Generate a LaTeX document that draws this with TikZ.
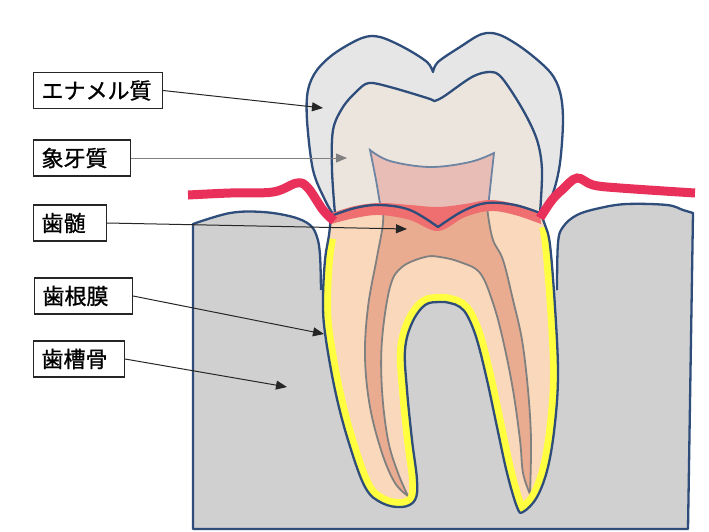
\documentclass[tikz,border=0pt]{standalone}
\usepackage{fontspec}
\usepackage{tikz}
\usetikzlibrary{arrows.meta}
\newfontfamily\jpfont[FakeBold=1]{Noto Sans CJK JP}
\definecolor{bonegray}{HTML}{D0D0D0}
\definecolor{enamelgray}{HTML}{E6E6E6}
\definecolor{dentinbeige}{HTML}{ECE5DE}
\definecolor{chamberpink}{HTML}{E8BDB5}
\definecolor{chamberline}{HTML}{6D84A3}
\definecolor{rootpeach}{HTML}{F9D8BC}
\definecolor{canalsalmon}{HTML}{E9AC91}
\definecolor{bandred}{HTML}{EF6E70}
\definecolor{gumred}{HTML}{E8305A}
\definecolor{outlineblue}{HTML}{2E4D7B}
\definecolor{pdlyellow}{HTML}{FFFF40}
\newcommand{\rootpath}{plot[smooth,tension=0.6] coordinates {(331,216) (355,208) (380,205) (410,210) (438,227)} -- plot[smooth,tension=0.6] coordinates {(438,227) (463,211) (487,203) (515,205) (540,213)} -- plot[smooth,tension=0.6] coordinates {(540,213) (545,225) (550,245) (555,307) (558,373) (555,423) (548,467) (537,497) (523,512) (517,507) (507,473) (497,427) (487,380) (477,340) (468,317) (460,307) (450,303) (440,302) (425,305) (412,323) (405,350) (407,390) (412,440) (417,480) (415,500) (402,507) (382,503) (365,487) (348,440) (335,390) (325,333) (323,300) (325,260) (329,235) (331,216)} -- cycle}

\begin{document}
\begin{tikzpicture}[x=1pt, y=-1pt,
	outline/.style={draw=outlineblue, line width=2.3pt, line join=round},
	tag/.style={draw=black!85, line width=1.1pt, fill=white, anchor=west, inner xsep=8pt, inner ysep=3pt, minimum height=36pt, align=left, font=\jpfont\fontsize{22}{26}\selectfont},
	pointer/.style={-{Triangle[length=11pt,width=9pt]}, line width=1pt, black!85},
	canal/.style={draw=gray, line width=1.8pt, fill=canalsalmon}]
	\useasboundingbox (0,0) rectangle (709,531);
	\draw[outline, fill=bonegray] plot[smooth,tension=0.6] coordinates {(321,290) (320,255) (317,237) (310,225) (293,217) (263,212) (230,213) (193,224)} -- (193,529) -- (688,529) -- plot[smooth,tension=0.6] coordinates {(693,213) (683,210) (667,205) (627,204) (600,208) (577,215) (563,227) (558,243) (557,290)};
	\draw[outline, fill=enamelgray] plot[smooth,tension=0.55] coordinates {(333,214) (325,200) (313,170) (307,120) (308,90) (317,70) (335,53) (362,38) (380,37) (405,48) (427,62) (433,72)} -- plot[smooth,tension=0.55] coordinates {(433,72) (438,62) (460,47) (482,34) (500,35) (525,50) (550,72) (560,92) (563,120) (560,163) (553,193) (542,213)};
	\draw[outline, fill=dentinbeige] plot[smooth,tension=0.55] coordinates {(335,214) (332,170) (333,130) (343,107) (357,91) (369,83) (390,87) (427,98) (434,101)} -- plot[smooth,tension=0.55] coordinates {(434,101) (443,97) (472,77) (490,72) (502,78) (523,110) (537,140) (542,170) (540,213)};
	\draw[draw=chamberline, line width=1.8pt, fill=chamberpink] plot[smooth,tension=0.6] coordinates {(381,210) (376,180) (370,150)} -- plot[smooth,tension=0.6] coordinates {(370,150) (390,161) (430,167) (470,162) (494,153)} -- plot[smooth,tension=0.6] coordinates {(494,153) (491,180) (488,208)};
	\fill[rootpeach] \rootpath;
	\begin{scope}
		\clip \rootpath;
		\draw[canal] plot[smooth,tension=0.6] coordinates {(408,496) (395,483) (382,453) (370,407) (365,357) (368,307) (377,257) (383,223) (382,200)} -- (487,200) -- plot[smooth,tension=0.6] coordinates {(487,200) (488,215) (493,240) (503,260) (513,300) (522,340) (528,390) (531,440) (530,494)} -- plot[smooth,tension=0.6] coordinates {(530,494) (523,473) (520,440) (513,390) (503,340) (493,303) (480,273) (460,262) (440,257) (425,257) (402,267) (390,287) (382,340) (382,390) (388,440) (398,473) (408,496)} -- cycle;
		\draw[pdlyellow, line width=16pt] plot[smooth,tension=0.6] coordinates {(547,226) (550,245) (555,307) (558,373) (555,423) (548,467) (537,497) (523,512) (517,507) (507,473) (497,427) (487,380) (477,340) (468,317) (460,307) (450,303) (440,302) (425,305) (412,323) (405,350) (407,390) (412,440) (417,480) (415,500) (402,507) (382,503) (365,487) (348,440) (335,390) (325,333) (323,300) (325,260) (328,238)};
	\end{scope}
	\fill[bandred] plot[smooth,tension=0.6] coordinates {(332,213) (355,206) (380,203) (410,205) (438,207) (465,204) (490,200) (515,204) (540,212)} -- plot[smooth,tension=0.6] coordinates {(541,224) (515,215) (490,211) (465,217) (438,231) (410,220) (380,215) (355,218) (331,224)} -- cycle;
	\draw[outline] \rootpath;
	\draw[gumred, line width=9pt] plot[smooth,tension=0.6] coordinates {(188,195) (230,193) (273,192) (297,183) (308,188) (323,210) (334,221)};
	\draw[gumred, line width=9pt] plot[smooth,tension=0.6] coordinates {(540,218) (552,200) (563,189) (577,178) (593,185) (620,188) (695,193)};
	\node[tag, text width=113pt] (enamel) at (33,90.5) {エナメル質};
	\node[tag, text width=81pt] (dentin) at (33,158) {象牙質};
	\node[tag, text width=57pt] (pulp) at (33,223) {歯髄};
	\node[tag, text width=82pt] (ligament) at (34,296) {歯根膜};
	\node[tag, text width=75pt] (alveolar) at (33,359) {歯槽骨};
	\coordinate (enamelpt) at (323,108);
	\coordinate (dentinpt) at (347,158);
	\coordinate (pulppt) at (407,229);
	\coordinate (ligamentpt) at (324,334);
	\coordinate (alveolarpt) at (287,387);
	\draw[pointer] (enamel.east) -- (enamelpt);
	\draw[pointer, gray] (dentin.east) -- (dentinpt);
	\draw[pointer] (pulp.east) -- (pulppt);
	\draw[pointer] (ligament.east) -- (ligamentpt);
	\draw[pointer] (alveolar.east) -- (alveolarpt);
\end{tikzpicture}
\end{document}
